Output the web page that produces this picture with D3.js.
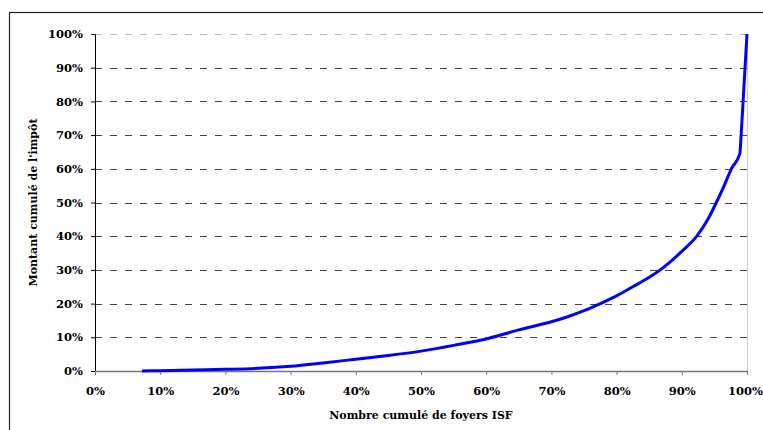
<!DOCTYPE html>
<html>
<head>
<meta charset="utf-8">
<script src="https://cdn.jsdelivr.net/npm/d3@7"></script>
<style>
  body { margin: 0; background: #fff; }
  svg { display: block; }
</style>
</head>
<body>
<svg id="chart"></svg>
<script>
// cumulative share of ISF households (%) vs cumulative share of the tax (%)
const foyers = [7.2, 10, 15, 20, 25, 30, 35, 40, 45, 50, 55, 60, 65, 70, 72.5, 75, 77.5, 80, 82.5, 85, 86.7, 88, 90, 92.3, 94, 95.3, 96.5, 97.6, 98.9, 99.1, 99.4, 99.7, 100];
const impot  = [0, 0.1, 0.3, 0.5, 0.8, 1.4, 2.4, 3.5, 4.6, 5.9, 7.6, 9.5, 12.2, 14.6, 16.1, 17.9, 20.0, 22.3, 25.0, 27.8, 30.0, 32.0, 35.5, 40, 45, 50, 55, 60, 64.5, 70, 80, 90, 100];
const xTicks = [0, 10, 20, 30, 40, 50, 60, 70, 80, 90, 100];
const yTicks = [0, 10, 20, 30, 40, 50, 60, 70, 80, 90, 100];

const data = foyers.map((f, i) => ({ x: f, y: impot[i] }));

const W = 763, H = 430;
const margin = { top: 34, right: 16, bottom: 59, left: 95 },
      width = W - margin.left - margin.right,
      height = H - margin.top - margin.bottom;

const root = d3.select("#chart").attr("width", W).attr("height", H);

// outer frame (clipped at right/bottom like the original)
root.append("rect")
    .attr("x", 9.5).attr("y", 12.5)
    .attr("width", W).attr("height", H)
    .attr("fill", "none")
    .attr("stroke", "#222")
    .attr("stroke-width", 1.2);

const svg = root.append("g").attr("transform", `translate(${margin.left},${margin.top})`);

const xScale = d3.scaleLinear().domain([0, 100]).range([0, width]);
const yScale = d3.scaleLinear().domain([0, 100]).range([height, 0]);

const font = "'DejaVu Serif', serif";

// gridlines
svg.selectAll(".grid")
    .data(yTicks.filter(d => d > 0))
    .enter().append("line")
    .attr("class", "grid")
    .attr("x1", 0).attr("x2", width)
    .attr("y1", d => Math.round(yScale(d)) + 0.5)
    .attr("y2", d => Math.round(yScale(d)) + 0.5)
    .attr("stroke", d => d === 100 ? "#bbb" : "#444")
    .attr("stroke-width", 1)
    .attr("stroke-dasharray", "7,8");

// right border of plot area
svg.append("line")
    .attr("x1", width + 0.5).attr("x2", width + 0.5)
    .attr("y1", 0).attr("y2", height)
    .attr("stroke", "#ccc");

// y axis
const yAxis = svg.append("g")
    .call(d3.axisLeft(yScale).tickValues(yTicks).tickSize(4).tickPadding(8).tickFormat(d => d + "%"));
yAxis.select(".domain").attr("stroke", "#000");
yAxis.selectAll("line").attr("stroke", "#000");
yAxis.selectAll("text")
    .style("font-size", "11.5px")
    .style("font-weight", "bold")
    .style("font-family", font)
    .attr("fill", "#000");

// x axis
const xAxis = svg.append("g")
    .attr("transform", `translate(0,${height})`)
    .call(d3.axisBottom(xScale).tickValues(xTicks).tickSize(4).tickSizeOuter(0).tickPadding(12).tickFormat(d => d + "%"));
xAxis.select(".domain").attr("stroke", "#777").attr("stroke-width", 1.5);
xAxis.selectAll("line").attr("stroke", "#777");
xAxis.selectAll("text")
    .style("font-size", "11.5px")
    .style("font-weight", "bold")
    .style("font-family", font)
    .attr("fill", "#000")
    .attr("dx", d => d === 100 ? -2 : 0);

// curve
svg.append("path")
    .datum(data)
    .attr("fill", "none")
    .attr("stroke", "#0000ff")
    .attr("stroke-width", 3)
    .attr("stroke-linejoin", "round")
    .attr("d", d3.line().curve(d3.curveMonotoneX).x(d => xScale(d.x)).y(d => yScale(d.y)));

// axis titles
svg.append("text")
    .attr("x", width / 2)
    .attr("y", height + 48)
    .attr("text-anchor", "middle")
    .style("font-size", "11px")
    .style("font-weight", "bold")
    .style("font-family", font)
    .attr("fill", "#000")
    .text("Nombre cumulé de foyers ISF");

svg.append("text")
    .attr("transform", `translate(${33 - margin.left + 4},${height / 2}) rotate(-90)`)
    .attr("text-anchor", "middle")
    .style("font-size", "11px")
    .style("font-weight", "bold")
    .style("font-family", font)
    .attr("fill", "#000")
    .text("Montant cumulé de l'impôt");
</script>
</body>
</html>
